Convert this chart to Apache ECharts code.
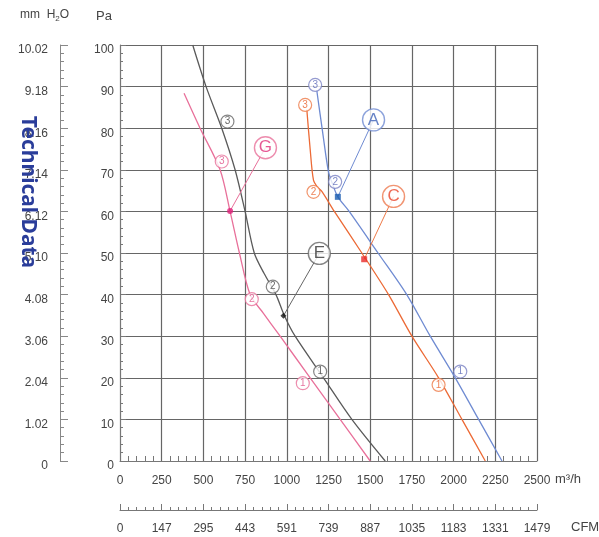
<!DOCTYPE html>
<html><head><meta charset="utf-8">
<script src="https://cdn.jsdelivr.net/npm/echarts/dist/echarts.min.js"></script>
<style>html,body{margin:0;padding:0;background:#fff}#c{width:599px;height:537px}</style>
</head><body><div id="c"></div>
<script>
// Tick labels
const flowLabels = ['0','250','500','750','1000','1250','1500','1750','2000','2250','2500'];
const cfmLabels = ['0','147','295','443','591','739','887','1035','1183','1331','1479'];
const paLabels = ['0','10','20','30','40','50','60','70','80','90','100'];
const mmLabels = ['0','1.02','2.04','3.06','4.08','5.10','6.12','7.14','8.16','9.18','10.02'];

// Curves [flow m3/h, pressure Pa]
const curveA = [[1180,89],[1215,79],[1250,69.5],[1275,66.5],[1306,63.5],[1374,60],[1547,50],[1719,40],[1860,30],[2010,20],[2150,10],[2290,0]];
const curveC = [[1120,84.5],[1140,75],[1160,67.5],[1185,65.8],[1210,64.8],[1285,60],[1450,50],[1610,40],[1750,30],[1910,20],[2050,10],[2190,0]];
const curveG = [[384,88.4],[480,80],[600,70],[660,60],[716,50],[780,40],[860,35.5],[960,30],[1140,20],[1320,10],[1500,0]];
const curveE = [[436,100],[516,90],[610,80],[690,70],[750,60],[805,50],[865,45],[935,40],[985,35],[1050,30],[1220,20],[1390,10],[1590,0]];

// Speed markers on curves [flow, pressure, label]
const marksA = [[1170,90.4,'3'],[1290,67.1,'2'],[2040,21.5,'1']];
const marksC = [[1110,85.6,'3'],[1160,64.7,'2'],[1910,18.3,'1']];
const marksG = [[610,72,'3'],[790,38.9,'2'],[1096,18.7,'1']];
const marksE = [[644,81.6,'3'],[916,41.9,'2'],[1200,21.5,'1']];

// Operating points and their tag circles
const opA = [1306,63.5], tagA = [1520,82];
const opC = [1464,48.5], tagC = [1640,63.6];
const opG = [660,60.1], tagG = [872,75.3];
const opE = [980,34.9], tagE = [1195,49.9];

const FONT = 'Liberation Sans';
const chart = echarts.init(document.getElementById('c'), null, {renderer:'canvas'});

function curve(data, color){
  return {type:'line', data:data, symbol:'none', smooth:0.3, lineStyle:{color:color, width:1.3}, z:2, silent:true};
}
function leader(a, b, color){
  return {type:'line', data:[a,b], symbol:'none', lineStyle:{color:color, width:1}, z:3, silent:true};
}
function marks(list, border, text){
  return {type:'scatter', data:list.map(m=>({value:[m[0],m[1]], name:m[2]})), symbol:'circle', symbolSize:13,
    itemStyle:{color:'#fff', borderColor:border, borderWidth:1.2},
    label:{show:true, position:'inside', formatter:'{b}', fontSize:10, color:text, fontFamily:FONT}, z:4, silent:true};
}
function tag(pos, name, border, text){
  return {type:'scatter', data:[{value:pos, name:name}], symbol:'circle', symbolSize:22,
    itemStyle:{color:'#fff', borderColor:border, borderWidth:1.4},
    label:{show:true, position:'inside', formatter:'{b}', fontSize:17, color:text, fontFamily:FONT}, z:5, silent:true};
}
function op(pos, color, sym){
  return {type:'scatter', data:[pos], symbol:sym, symbolSize:6, itemStyle:{color:color}, z:6, silent:true};
}

const labelStyle = {fontSize:12, color:'#444', fontFamily:FONT};

chart.setOption({
  animation:false,
  backgroundColor:'#fff',
  grid:{left:120, top:45, width:417, height:416, containLabel:false},
  xAxis:[
    {type:'value', min:0, max:2500, interval:250, position:'bottom',
     axisLine:{show:true, onZero:false, lineStyle:{color:'#777', width:1}},
     axisTick:{show:false, inside:true},
     minorTick:{show:true, splitNumber:5, length:5, lineStyle:{color:'#777', width:1}},
     splitLine:{show:true, lineStyle:{color:'#666', width:1.2}},
     axisLabel:Object.assign({margin:14, formatter:v=>flowLabels[Math.round(v/250)]}, labelStyle)},
    {type:'value', min:0, max:2500, interval:250, position:'bottom', offset:49,
     axisLine:{show:true, onZero:false, lineStyle:{color:'#777', width:1}},
     axisTick:{show:true, inside:true, length:6, lineStyle:{color:'#777'}},
     minorTick:{show:true, splitNumber:5, length:3, lineStyle:{color:'#777'}},
     splitLine:{show:false},
     axisLabel:Object.assign({margin:13, formatter:v=>cfmLabels[Math.round(v/250)]}, labelStyle)}
  ],
  yAxis:[
    {type:'value', min:0, max:100, interval:10, position:'left',
     axisLine:{show:true, onZero:false, lineStyle:{color:'#777', width:1}},
     axisTick:{show:true, inside:true, length:6, lineStyle:{color:'#777'}},
     minorTick:{show:true, splitNumber:5, length:3, lineStyle:{color:'#777'}},
     splitLine:{show:true, lineStyle:{color:'#666', width:1.2}},
     axisLabel:Object.assign({margin:6, verticalAlign:'top', lineHeight:10, formatter:v=>paLabels[Math.round(v/10)]}, labelStyle)},
    {type:'value', min:0, max:100, interval:10, position:'left', offset:60,
     axisLine:{show:true, onZero:false, lineStyle:{color:'#888', width:1}},
     axisTick:{show:true, inside:true, length:8, lineStyle:{color:'#888'}},
     minorTick:{show:true, splitNumber:5, length:4, lineStyle:{color:'#888'}},
     splitLine:{show:false},
     axisLabel:Object.assign({margin:12, verticalAlign:'top', lineHeight:10, formatter:v=>mmLabels[Math.round(v/10)]}, labelStyle)}
  ],
  series:[
    curve(curveE, '#5a5a5a'),
    curve(curveG, '#e8709a'),
    curve(curveC, '#ec6a36'),
    curve(curveA, '#6f8bd2'),
    leader(opE, tagE, '#666'),
    leader(opG, tagG, '#e8709a'),
    leader(opC, tagC, '#ee7a48'),
    leader(opA, tagA, '#6f8bd2'),
    marks(marksE, '#666', '#444'),
    marks(marksG, '#e8709a', '#e05088'),
    marks(marksC, '#ee7a48', '#e8602a'),
    marks(marksA, '#7a82c4', '#5a68b8'),
    tag(tagE, 'E', '#666', '#333'),
    tag(tagG, 'G', '#e8709a', '#e0307a'),
    tag(tagC, 'C', '#ee7a50', '#e8452a'),
    tag(tagA, 'A', '#6f8bd2', '#3f63b8'),
    op(opE, '#111', 'diamond'),
    op(opG, '#e0207a', 'circle'),
    op(opC, '#e82a2a', 'rect'),
    op(opA, '#1a5cb0', 'rect')
  ],
  graphic:[
    {type:'text', left:20, top:9, style:{text:'{a|mm  H}{s|2}{a|O}', rich:{a:{fontSize:12, fontFamily:FONT, fill:'#444'}, s:{fontSize:8, fontFamily:FONT, fill:'#444', verticalAlign:'bottom', padding:[8,0,0,0]}}}},
    {type:'text', left:96, top:10, style:{text:'Pa', fontSize:13, fontFamily:FONT, fill:'#444'}},
    {type:'text', left:555, top:473, style:{text:'m³/h', fontSize:13, fontFamily:FONT, fill:'#444'}},
    {type:'text', left:571, top:521, style:{text:'CFM', fontSize:13, fontFamily:FONT, fill:'#444'}},
    {type:'text', x:28, y:192, rotation:-Math.PI/2, z:100,
     style:{text:'Technical Data', fontSize:21, fontWeight:'bold', fontFamily:'Noto Sans', fill:'#2a3d9a', align:'center', verticalAlign:'middle'}}
  ]
});
</script>
</body></html>
